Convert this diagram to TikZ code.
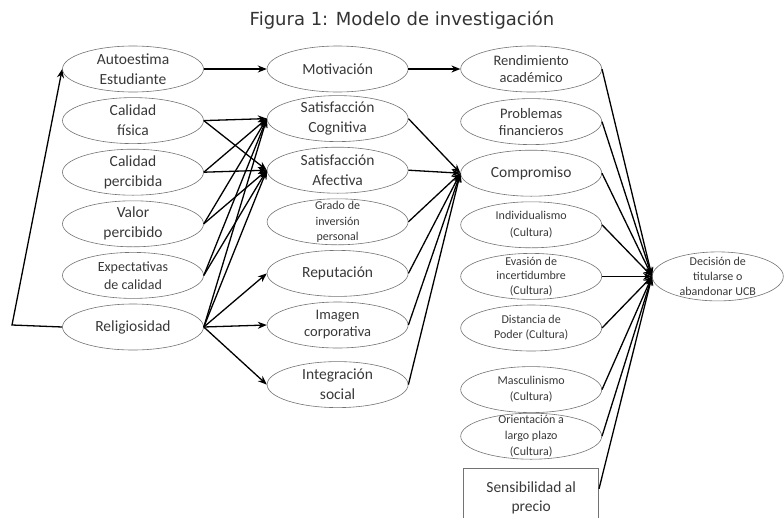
\documentclass[tikz,border=0pt]{standalone}
\usepackage{fontspec}
\setmainfont{Carlito}
\newfontfamily\titlefont{DejaVu Sans}
\usepackage{tikz}
\usetikzlibrary{shapes.geometric}
\usetikzlibrary{positioning}
\usetikzlibrary{arrows.meta}

\begin{document}
\begin{tikzpicture}[x=1pt, y=-1pt, node distance=5pt,
        ovalnode/.style={ellipse, draw=black!55, line width=0.6pt, minimum width=141pt, minimum height=46pt, inner xsep=0pt, inner ysep=-8pt, align=center, text=black!78, font=\fontsize{15.5}{20}\selectfont},
        smalloval/.style={ovalnode, font=\fontsize{12}{16}\selectfont},
        link/.style={-{Stealth[length=9pt, width=7pt]}, line width=1.3pt}]
        \useasboundingbox (0,0) rectangle (784,517);
        \clip (0,0) rectangle (784,517);

        \node[font=\titlefont\fontsize{18}{21}\selectfont, text=black!80] (title) at (402,20) {Figura 1: Modelo de investigación};

        % variables de entrada
        \node[ovalnode] (aut) at (133,69) {Autoestima\\Estudiante};
        \node[ovalnode] (cfis) [below=of aut] {Calidad\\física};
        \node[ovalnode] (cper) [below=of cfis] {Calidad\\percibida};
        \node[ovalnode] (val) [below=of cper] {Valor\\percibido};
        \node[ovalnode, font=\fontsize{14}{18}\selectfont] (expe) [below=of val] {Expectativas\\de calidad};
        \node[ovalnode] (rel) [below=of expe] {Religiosidad};

        % variables intermedias
        \node[ovalnode] (mot) [right=63pt of aut] {Motivación};
        \node[ovalnode] (scog) [below=3pt of mot] {Satisfacción\\Cognitiva};
        \node[ovalnode] (safe) [below=of scog] {Satisfacción\\Afectiva};
        \node[smalloval, font=\fontsize{12}{15.5}\selectfont] (grado) [below=of safe] {Grado de\\inversión\\personal};
        \node[ovalnode] (rep) [below=of grado] {Reputación};
        \node[ovalnode, font=\fontsize{14.5}{17}\selectfont] (imag) [below=of rep] {Imagen\\corporativa};
        \node[ovalnode] (integ) [below=13pt of imag] {Integración\\social};

        % antecedentes de la decision
        \node[ovalnode, font=\fontsize{14.5}{17}\selectfont] (rend) [right=52pt of mot] {Rendimiento\\académico};
        \node[ovalnode, font=\fontsize{14.5}{17}\selectfont] (prob) [below=6pt of rend] {Problemas\\financieros};
        \node[ovalnode] (comp) [below=of prob] {Compromiso};
        \node[smalloval, font=\fontsize{12}{17}\selectfont] (indiv) [below=of comp] {Individualismo\\(Cultura)};
        \node[smalloval, font=\fontsize{12}{14.5}\selectfont] (evas) [below=of indiv] {Evasión de\\incertidumbre\\(Cultura)};
        \node[smalloval, font=\fontsize{12}{15}\selectfont] (dist) [below=of evas] {Distancia de\\Poder (Cultura)};
        \node[smalloval] (masc) [below=15pt of dist] {Masculinismo\\(Cultura)};
        \node[smalloval] (orient) [below=0pt of masc] {Orientación a\\largo plazo\\(Cultura)};
        \node[rectangle, draw=black!55, line width=0.6pt, minimum width=135pt, minimum height=60pt, align=center, text=black!78, font=\fontsize{15.5}{19}\selectfont] (sens) [below=8pt of orient] {Sensibilidad al\\precio};

        \node[ovalnode, minimum width=131pt, minimum height=49pt, font=\fontsize{12}{15}\selectfont] (dec) [right=50pt of evas] {Decisión de\\titularse o\\abandonar UCB};

        \coordinate (fb) at (12,325);
        \draw[link] (rel.west) -- (fb) -- (aut.west);

        \draw[link] (aut.east) -- (mot.west);
        \draw[link] (cfis.east) -- (scog.west);
        \draw[link] (cfis.east) -- (safe.west);
        \draw[link] (cper.east) -- (scog.west);
        \draw[link] (cper.east) -- (safe.west);
        \draw[link] (val.east) -- (scog.west);
        \draw[link] (val.east) -- (safe.west);
        \draw[link] (expe.east) -- (scog.west);
        \draw[link] (expe.east) -- (safe.west);
        \draw[link] (rel.east) -- (scog.west);
        \draw[link] (rel.east) -- (safe.west);
        \draw[link] (rel.east) -- (rep.west);
        \draw[link] (rel.east) -- (imag.west);
        \draw[link] (rel.east) -- (integ.west);

        \draw[link] (mot.east) -- (rend.west);
        \draw[link] (scog.east) -- (comp.west);
        \draw[link] (safe.east) -- (comp.west);
        \draw[link] (grado.east) -- (comp.west);
        \draw[link] (rep.east) -- (comp.west);
        \draw[link] (imag.east) -- (comp.west);
        \draw[link] (integ.east) -- (comp.west);

        \draw[link] (rend.east) -- (dec.west);
        \draw[link] (prob.east) -- (dec.west);
        \draw[link] (comp.east) -- (dec.west);
        \draw[link] (indiv.east) -- (dec.west);
        \draw[link] (evas.east) -- (dec.west);
        \draw[link] (dist.east) -- (dec.west);
        \draw[link] (masc.east) -- (dec.west);
        \draw[link] (orient.east) -- (dec.west);
        \draw[link] ([yshift=9pt]sens.east) -- (dec.west);
    \end{tikzpicture}
\end{document}
